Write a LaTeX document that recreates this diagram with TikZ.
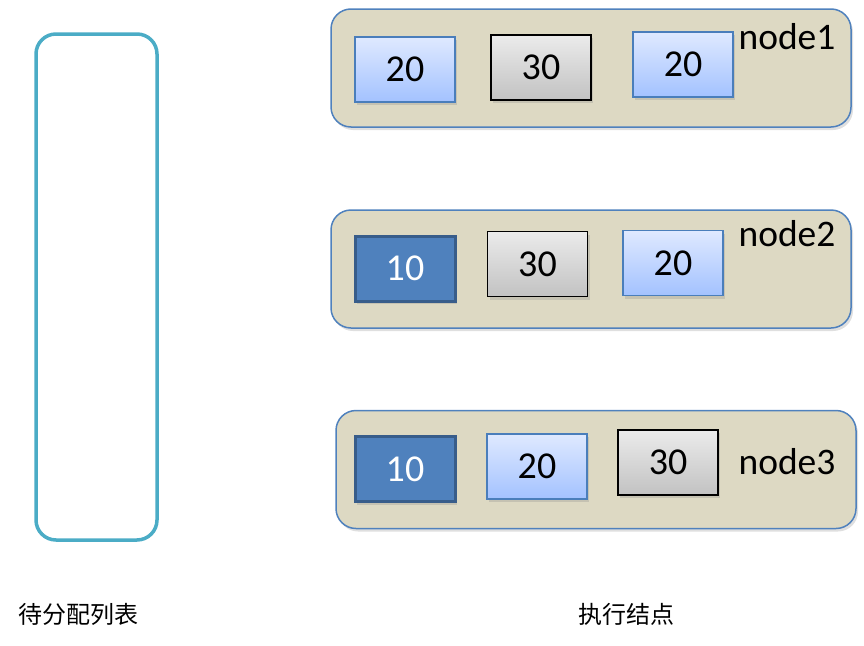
\documentclass[tikz,border=0pt]{standalone}
\usepackage{fontspec}
\setmainfont{Carlito}
\newfontfamily\cjk{Noto Sans CJK SC}
\usetikzlibrary{shadows}

\definecolor{listline}{HTML}{4BACC6}
\definecolor{hostfill}{HTML}{DDD9C3}
\definecolor{hostline}{HTML}{4F81BD}
\definecolor{blueline}{HTML}{4A7EBB}
\definecolor{bluetop}{HTML}{DFE9FF}
\definecolor{bluebot}{HTML}{A3C2FF}
\definecolor{greytop}{HTML}{EBEBEB}
\definecolor{greybot}{HTML}{C2C2C2}
\definecolor{darkfill}{HTML}{4F81BD}
\definecolor{darkline}{HTML}{385D8A}

\tikzset{
  host/.style={draw=hostline, fill=hostfill, line width=1.5pt, rounded corners=20pt,
    minimum width=520pt, minimum height=118pt,
    drop shadow={shadow xshift=2pt, shadow yshift=-3pt, opacity=0.25}},
  task/.style={minimum width=100pt, minimum height=65pt, inner sep=0pt,
    font=\fontsize{38}{42}\selectfont,
    drop shadow={shadow xshift=2pt, shadow yshift=-3pt, opacity=0.25}},
  task20/.style={task, draw=blueline, line width=1.5pt, top color=bluetop, bottom color=bluebot},
  task30/.style={task, draw=black, line width=1.5pt, top color=greytop, bottom color=greybot},
  task10/.style={task, draw=darkline, line width=3pt, fill=darkfill, text=white},
  hostname/.style={font=\fontsize{37.5}{42}\selectfont},
  caption/.style={font=\cjk\fontsize{24}{28}\selectfont}
}

\begin{document}
\begin{tikzpicture}[x=1pt, y=-1pt]
    \useasboundingbox (0,0) rectangle (864,645);

    % Pending list
    \node[draw=listline, line width=3.5pt, rounded corners=20pt,
      minimum width=121pt, minimum height=506pt] (pending) at (96.5,287) {};
    \node[caption] (pendingtext) at (78,614) {待分配列表};

    % Execution nodes
    \node[host] (host1) at (591,68) {};
    \node[host] (host2) at (591,269) {};
    \node[host] (host3) at (596,469.5) {};

    % node1
    \node[task20] (a1) at (405,69.5) {20};
    \node[task30] (a2) at (541,67.5) {30};
    \node[task20] (a3) at (683,64.5) {20};
    \node[hostname] (name1) at (787,37) {node1};

    % node2
    \node[task10] (b1) at (405,268.5) {10};
    \node[task30] (b2) at (537.5,264) {30};
    \node[task20] (b3) at (673,263) {20};
    \node[hostname] (name2) at (787,234) {node2};

    % node3
    \node[task10] (c1) at (405,469) {10};
    \node[task20] (c2) at (537,466.5) {20};
    \node[task30] (c3) at (668,462.5) {30};
    \node[hostname] (name3) at (787,462) {node3};

    \node[caption] (hosttext) at (626,614) {执行结点};
\end{tikzpicture}
\end{document}
